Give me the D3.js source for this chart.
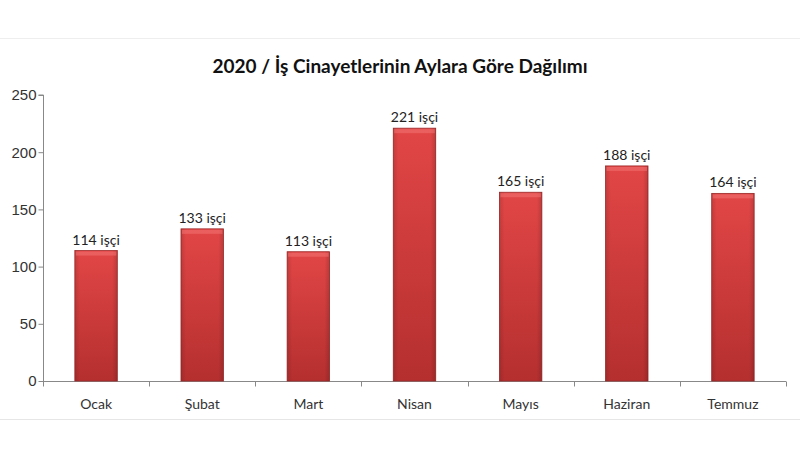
<!DOCTYPE html>
<html>
<head>
<meta charset="utf-8">
<script src="https://cdnjs.cloudflare.com/ajax/libs/d3/7.8.5/d3.min.js"></script>
<style>
  body { margin: 0; background: #fff; }
  svg { display: block; }
</style>
</head>
<body>
<svg id="chart"></svg>
<script>
const months = ["Ocak", "Şubat", "Mart", "Nisan", "Mayıs", "Haziran", "Temmuz"];
const workers = [114, 133, 113, 221, 165, 188, 164];
const yTicks = [0, 50, 100, 150, 200, 250];
const titleText = "2020 / İş Cinayetlerinin Aylara Göre Dağılımı";

const width = 800, height = 463;
const margin = {top: 95, right: 14, bottom: 82, left: 43};

const svg = d3.select("#chart")
    .attr("width", width)
    .attr("height", height)
    .style("font-family", "Lato, 'Open Sans', sans-serif");

// bar gradient
const defs = svg.append("defs");
const grad = defs.append("linearGradient")
    .attr("id", "barGrad")
    .attr("x1", 0).attr("y1", 0).attr("x2", 0).attr("y2", 1);
grad.append("stop").attr("offset", "0%").attr("stop-color", "#e24646");
grad.append("stop").attr("offset", "100%").attr("stop-color", "#b52f2f");

const sideGrad = defs.append("linearGradient")
    .attr("id", "sideGrad")
    .attr("x1", 0).attr("y1", 0).attr("x2", 1).attr("y2", 0);
sideGrad.append("stop").attr("offset", "0%").attr("stop-color", "#000").attr("stop-opacity", 0.12);
sideGrad.append("stop").attr("offset", "12%").attr("stop-color", "#000").attr("stop-opacity", 0);
sideGrad.append("stop").attr("offset", "88%").attr("stop-color", "#000").attr("stop-opacity", 0);
sideGrad.append("stop").attr("offset", "100%").attr("stop-color", "#000").attr("stop-opacity", 0.15);

// faint frame lines
svg.append("line").attr("x1", 0).attr("x2", width).attr("y1", 38.5).attr("y2", 38.5)
    .attr("stroke", "#eeeeee");
svg.append("line").attr("x1", 0).attr("x2", width).attr("y1", 419.5).attr("y2", 419.5)
    .attr("stroke", "#e6e6e6");

const x = d3.scaleBand()
    .domain(months)
    .range([margin.left, width - margin.right])
    .paddingInner(0.6)
    .paddingOuter(0.3);

const y = d3.scaleLinear()
    .domain([0, 250])
    .range([height - margin.bottom, margin.top]);

// y axis
const yAxis = svg.append("g")
    .attr("transform", `translate(${margin.left + 0.5},0)`)
    .call(d3.axisLeft(y).tickValues(yTicks).tickSize(5).tickPadding(6));
yAxis.select(".domain").attr("stroke", "#888").attr("d", `M-5,${y(250)}H0V${y(0)}`);
yAxis.selectAll(".tick line").attr("stroke", "#888");
yAxis.selectAll(".tick text").attr("font-size", 15).attr("fill", "#333").attr("x", -7);

// x axis: ticks at band boundaries
const xAxisG = svg.append("g").attr("transform", `translate(0,${y(0) + 0.5})`);
const step = x.step();
const x0 = margin.left, x1 = width - margin.right;
xAxisG.append("line").attr("x1", x0).attr("x2", x1).attr("stroke", "#888");
xAxisG.selectAll("line.tk")
    .data(d3.range(months.length + 1))
    .join("line")
    .attr("class", "tk")
    .attr("x1", i => Math.round(x0 + i * (x1 - x0) / months.length) + 0.5)
    .attr("x2", i => Math.round(x0 + i * (x1 - x0) / months.length) + 0.5)
    .attr("y1", 0).attr("y2", 5)
    .attr("stroke", "#888");
xAxisG.selectAll("text")
    .data(months)
    .join("text")
    .attr("x", d => x(d) + x.bandwidth() / 2)
    .attr("y", 27)
    .attr("text-anchor", "middle")
    .attr("font-size", 14)
    .attr("fill", "#333")
    .text(d => d);

// bars
const bars = svg.append("g").selectAll("g")
    .data(months.map((m, i) => ({m, v: workers[i]})))
    .join("g");

bars.append("rect")
    .attr("x", d => x(d.m))
    .attr("y", d => y(d.v))
    .attr("width", x.bandwidth())
    .attr("height", d => y(0) - y(d.v))
    .attr("fill", "url(#barGrad)")
    .attr("stroke", "#9c2a2a")
    .attr("stroke-width", 0.8);

bars.append("rect")
    .attr("x", d => x(d.m))
    .attr("y", d => y(d.v))
    .attr("width", x.bandwidth())
    .attr("height", d => y(0) - y(d.v))
    .attr("fill", "url(#sideGrad)");

// top bevel highlight
bars.append("rect")
    .attr("x", d => x(d.m) + 1)
    .attr("y", d => y(d.v) + 1)
    .attr("width", x.bandwidth() - 2)
    .attr("height", 4)
    .attr("fill", "#f07070")
    .attr("opacity", 0.6);

bars.append("text")
    .attr("x", d => x(d.m) + x.bandwidth() / 2)
    .attr("y", d => y(d.v) - 6)
    .attr("text-anchor", "middle")
    .attr("font-size", 14)
    .attr("fill", "#222")
    .text(d => `${d.v} işçi`);

// title
svg.append("text")
    .attr("x", 400)
    .attr("y", 73)
    .attr("text-anchor", "middle")
    .attr("font-size", 19)
    .attr("font-weight", "bold")
    .attr("fill", "#111")
    .text(titleText);
</script>
</body>
</html>
